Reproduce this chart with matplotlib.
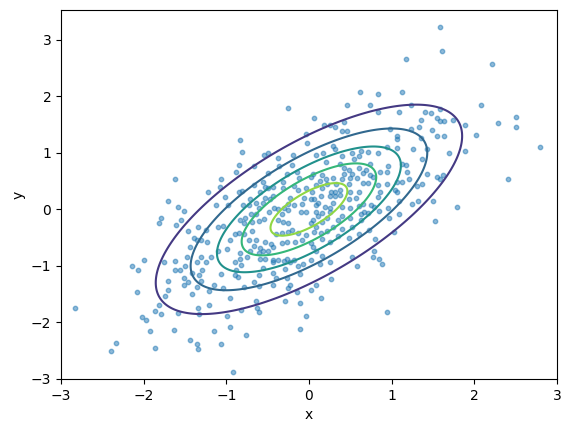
import numpy as np
import matplotlib
matplotlib.use('Agg')
import matplotlib.pyplot as plt

# scatter points, outer / sparse part
outer_points = [
    (-0.25, 1.80),
    (1.17, 2.67), (0.62, 2.07), (0.83, 2.05), (1.13, 2.07), (0.46, 1.85), (0.74, 1.85),
    (1.23, 1.85), (0.83, 1.73), (1.09, 1.73), (1.41, 1.73), (1.48, 1.71), (0.06, 1.62),
    (1.35, 1.59), (0.18, 1.49), (0.26, 1.49), (0.31, 1.45), (0.43, 1.55), (1.33, 1.46),
    (1.24, 1.42), (0.98, 1.42), (0.40, 1.38), (0.46, 1.39), (1.49, 1.40),
    (1.59, 3.23), (1.61, 2.81), (2.21, 2.58), (2.08, 1.84), (2.51, 1.64), (2.29, 1.52),
    (2.50, 1.46), (1.89, 1.50), (1.74, 1.59), (1.59, 1.77), (1.55, 1.62), (1.59, 1.57),
    (1.64, 1.57),
    (2.02, 1.32), (1.55, 1.30), (1.64, 1.29), (2.80, 1.11), (1.89, 1.04), (1.70, 1.00),
    (1.55, 0.58), (1.62, 0.60), (1.59, 0.53), (2.41, 0.53), (1.50, 0.15), (1.79, 0.05),
    (1.52, -0.20),
    (-1.62, 0.54), (-1.71, 0.15), (-1.58, 0.05), (-1.51, -0.02), (-1.79, -0.15),
    (-1.82, -0.25), (-1.55, -0.18), (-1.61, -0.27),
    (-2.00, -0.89), (-2.14, -1.01), (-2.07, -1.07), (-1.75, -0.94), (-1.62, -0.91),
    (-1.62, -1.07), (-1.56, -1.08), (-1.50, -1.00), (-1.51, -1.21), (-1.51, -1.33),
    (-1.71, -1.26), (-1.71, -1.42), (-1.74, -1.53), (-2.08, -1.46), (-2.83, -1.74),
    (-1.82, -1.70), (-1.86, -1.79), (-1.79, -1.86), (-1.58, -1.83), (-2.02, -1.90),
    (-1.97, -1.95), (-1.92, -2.15), (-1.63, -2.13), (-2.34, -2.36), (-2.40, -2.50),
    (-1.86, -2.45),
    (0.02, -0.89), (0.16, -0.83), (0.13, -0.96), (0.25, -0.93), (0.52, -0.84),
    (0.58, -1.01), (0.77, -0.84), (0.85, -0.87), (0.88, -0.96), (0.27, -1.24),
    (0.08, -1.33), (0.03, -1.42), (0.14, -1.56), (0.95, -1.81),
    (-0.92, -2.87), (-1.44, -2.31), (-1.35, -2.39), (-1.34, -2.48), (-1.06, -2.38),
    (-1.15, -2.16), (-0.76, -2.22), (-0.96, -2.08), (-0.99, -1.88), (-1.34, -1.74),
    (-1.33, -1.86), (-1.21, -1.69), (-0.82, -1.78), (-0.63, -1.74), (-0.61, -1.81),
    (-0.64, -1.62), (-0.95, -1.56), (-0.29, -1.62), (-0.11, -1.65), (-0.11, -2.11),
    (-0.03, -1.88), (-0.15, -1.47), (-0.25, -1.39), (-0.23, -1.33), (-0.43, -1.33),
    (-0.60, -1.35), (-0.78, -1.37), (-1.04, -1.39), (-1.21, -1.44), (-1.41, -1.49),
    (-1.35, -1.37), (-1.15, -1.33), (-1.46, -1.28), (-1.30, -1.26), (-1.42, -1.12),
    (-1.29, -1.07), (-1.33, -1.17), (-1.24, -0.94), (-1.36, -0.93), (-1.18, -0.84),
    (-1.06, -1.14), (-0.89, -1.17), (-0.88, -1.07), (-0.86, -1.19), (-0.82, -0.98),
    (-0.89, -0.94), (-0.83, -0.87), (-0.75, -0.84), (-0.67, -1.28), (-0.60, -1.17),
    (-0.55, -1.03), (-0.59, -0.87), (-0.53, -0.87), (-0.44, -0.89), (-0.43, -1.12),
    (-0.40, -1.21), (-0.43, -0.94), (-0.37, -0.89), (-0.30, -0.91), (-0.26, -0.87),
    (-0.23, -0.94), (-0.18, -0.89), (-0.07, -0.96), (-0.13, -1.01), (-0.29, -1.05),
    (-0.11, -1.14), (-0.27, -1.21), (-1.30, -0.84), (-1.47, -0.84),
]

# dense middle part, left of x = 0
left_points = [
    (-0.83, 1.22), (-0.81, 1.02), (-0.54, 0.97), (-0.49, 0.99), (-0.37, 0.91),
    (-0.19, 0.97), (-0.02, 1.18), (-0.03, 1.34), (-0.67, 0.77), (-0.85, 0.79),
    (-0.88, 0.67), (-1.07, 0.54), (-1.08, 0.40), (-1.22, 0.30), (-1.02, 0.22),
    (-0.85, 0.30), (-0.81, 0.33), (-1.12, 0.08), (-0.98, 0.08), (-0.80, 0.08),
    (-0.67, 0.44), (-0.55, 0.49), (-0.50, 0.65), (-0.53, 0.40), (-0.59, 0.31),
    (-0.49, 0.37), (-0.36, 0.77), (-0.20, 0.79), (-0.15, 0.67), (-0.12, 0.56),
    (-0.27, 0.63), (-0.31, 0.49), (-0.31, 0.37), (-0.43, 0.24), (-0.53, 0.21),
    (-0.56, 0.12), (-0.64, 0.12), (-0.71, 0.19), (-0.73, 0.07), (-0.60, 0.03),
    (-0.64, -0.08), (-0.70, -0.09), (-0.77, -0.15), (-0.83, -0.18), (-0.78, -0.24),
    (-0.69, -0.22), (-0.61, -0.20), (-0.54, -0.17), (-0.48, -0.04), (-0.42, 0.03),
    (-0.37, 0.01), (-0.30, 0.03), (-0.25, -0.01), (-0.25, 0.10), (-0.18, 0.07),
    (-0.10, -0.04), (-0.04, -0.04), (-0.08, 0.10), (-0.06, 0.21), (-0.23, 0.21),
    (-0.13, 0.35), (-0.03, 0.38), (-0.37, -0.18), (-0.31, -0.22), (-0.25, -0.25),
    (-0.32, -0.08), (-0.47, 0.19), (-0.43, 0.40), (-0.18, 0.42),
    (-1.46, -0.38), (-1.34, -0.32), (-1.24, -0.36), (-1.10, -0.32), (-1.04, -0.29),
    (-1.39, -0.50), (-1.35, -0.55), (-1.31, -0.54), (-1.44, -0.66), (-1.23, -0.57),
    (-1.10, -0.73), (-0.99, -0.71), (-0.96, -0.55), (-0.90, -0.43), (-0.85, -0.41),
    (-0.78, -0.43), (-0.73, -0.54), (-0.69, -0.39), (-0.64, -0.55), (-0.67, -0.64),
    (-0.59, -0.68), (-0.56, -0.73), (-0.53, -0.57), (-0.46, -0.62), (-0.40, -0.43),
    (-0.32, -0.41), (-0.25, -0.40), (-0.20, -0.36), (-0.13, -0.41), (-0.03, -0.45),
    (-0.08, -0.55), (-0.17, -0.57), (-0.27, -0.57), (-0.33, -0.59), (-0.43, -0.66),
    (-0.49, -0.73), (-0.60, -0.77), (-0.71, -0.73), (-0.83, -0.77),
]

# dense middle part, right of x = 0
right_points = [
    (1.06, 1.30), (1.06, 1.25), (1.35, 1.27), (1.26, 1.07), (1.43, 1.07), (1.06, 1.09),
    (0.94, 1.11), (0.83, 1.00), (0.72, 1.02), (0.63, 1.04), (0.60, 0.95), (0.52, 0.99),
    (0.54, 0.90), (0.40, 0.95), (0.29, 1.13), (0.32, 1.07), (0.17, 1.00), (0.09, 0.97),
    (0.21, 0.84), (0.38, 0.81), (0.43, 0.74), (0.48, 0.70), (0.43, 0.63), (0.52, 0.63),
    (0.60, 0.74), (0.65, 0.65), (0.69, 0.69), (0.74, 0.81), (0.74, 0.61), (0.77, 0.58),
    (0.86, 0.67), (0.94, 0.67), (0.96, 0.77), (1.12, 0.81), (1.18, 0.79), (1.19, 0.67),
    (1.37, 0.90), (1.43, 0.63), (1.37, 0.45), (1.31, 0.42), (1.21, 0.53), (1.06, 0.49),
    (1.12, 0.49), (1.04, 0.35), (1.07, 0.30), (0.95, 0.45), (0.86, 0.31), (0.83, 0.22),
    (0.79, 0.05), (0.75, 0.08), (0.72, -0.06), (0.67, -0.04), (0.65, 0.10), (0.60, 0.06),
    (0.57, 0.21), (0.61, 0.31), (0.50, 0.30), (0.49, 0.19), (0.37, 0.35), (0.32, 0.31),
    (0.27, 0.31), (0.25, 0.24), (0.32, 0.24), (0.38, 0.26), (0.29, 0.12), (0.25, 0.03),
    (0.40, 0.05), (0.50, 0.03), (0.40, -0.11), (0.35, -0.18), (0.50, -0.15), (0.63, -0.18),
    (0.63, -0.09), (0.85, -0.02), (0.96, 0.03), (1.09, -0.08), (1.25, 0.10), (1.32, 0.15),
    (1.09, 0.15), (0.52, -0.31), (0.40, -0.35), (0.29, -0.31), (0.22, -0.38), (0.15, -0.41),
    (0.06, -0.40), (0.16, -0.52), (0.25, -0.57), (0.35, -0.48), (0.49, -0.50), (0.60, -0.43),
    (0.73, -0.36), (0.80, -0.52), (0.79, -0.73), (1.03, -0.40), (0.97, -0.15), (0.05, -0.66),
    (0.09, -0.73), (0.02, -0.59), (0.11, -0.11), (0.05, -0.18), (0.16, -0.06), (0.19, 0.05),
    (0.11, 0.12), (0.06, 0.19), (0.04, 0.30), (0.15, 0.24), (0.16, 0.37), (0.09, 0.44),
    (0.03, 0.58), (0.05, 0.63), (0.16, 0.61), (0.13, 0.51), (0.22, 0.45), (0.21, 0.53),
    (0.29, 0.56), (0.33, 0.45), (0.40, 0.53), (0.48, 0.45), (0.50, 0.56), (0.58, 0.56),
    (0.65, 0.47), (0.71, 0.47), (0.83, 0.44), (0.08, 0.07), (0.09, -0.04), (0.02, -0.25),
    (0.08, -0.31), (0.16, -0.22), (0.22, -0.16), (0.25, -0.04), (0.02, 0.19),
]

# gaussian behind the contour lines
mean = [0.0, 0.0]
cov = [[1.0, 0.7], [0.7, 1.0]]
levels = [0.0, 0.04, 0.08, 0.12, 0.16, 0.20, 0.24]

points = np.array(outer_points + left_points + right_points)

# density on a grid
gx, gy = np.meshgrid(np.linspace(-3, 3, 300), np.linspace(-3, 3, 300))
inv = np.linalg.inv(cov)
dx = gx - mean[0]
dy = gy - mean[1]
q = inv[0, 0] * dx**2 + 2 * inv[0, 1] * dx * dy + inv[1, 1] * dy**2
pdf = np.exp(-0.5 * q) / (2 * np.pi * np.sqrt(np.linalg.det(cov)))

fig = plt.figure(figsize=(5.7, 4.32), dpi=100)
ax = fig.add_subplot(111)
fig.subplots_adjust(left=0.107, right=0.977, top=0.977, bottom=0.123)

ax.scatter(points[:, 0], points[:, 1], s=10, alpha=0.5)
ax.contour(gx, gy, pdf, levels=levels, cmap='viridis')

ax.set_xlim(-3, 3)
ax.set_ylim(-3, 3.53)
ax.set_xlabel('x')
ax.set_ylabel('y')

plt.savefig('out.png')
